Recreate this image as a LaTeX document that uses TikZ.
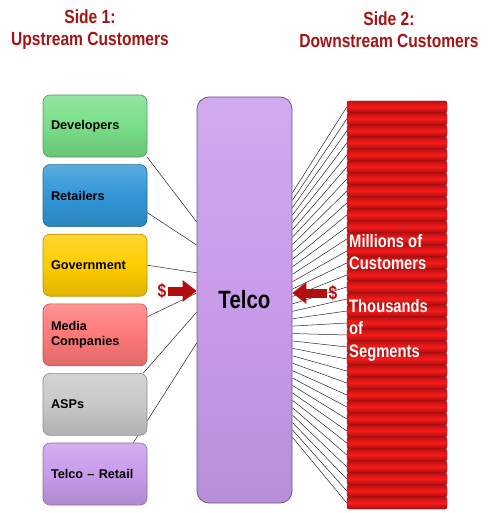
\documentclass[tikz,border=0pt]{standalone}
\usepackage{fontspec}
\setmainfont{Liberation Sans}
\newfontfamily\narrowsans[FakeStretch=0.82]{Liberation Sans}
\usetikzlibrary{positioning,calc,backgrounds,arrows.meta}

\definecolor{titlered}{RGB}{165,20,20}
\definecolor{cashred}{RGB}{180,15,15}
\definecolor{devgreen}{RGB}{120,222,135}
\definecolor{retblue}{RGB}{50,150,215}
\definecolor{govyellow}{RGB}{255,204,0}
\definecolor{medpink}{RGB}{255,120,120}
\definecolor{aspgrey}{RGB}{200,200,200}
\definecolor{telcopurple}{RGB}{200,155,235}
\definecolor{stripered}{RGB}{250,25,25}

\tikzset{
  custbox/.style={rectangle, rounded corners=7pt, minimum width=104pt, minimum height=62pt,
    text width=88pt, inner xsep=8pt, align=left, font=\bfseries\fontsize{12.7}{15}\selectfont,
    draw=#1!70!black, line width=0.6pt, top color=#1!80!white, bottom color=#1!88!black, middle color=#1},
  hubbox/.style={rectangle, rounded corners=12pt, minimum width=95pt, minimum height=406pt,
    draw=telcopurple!55!black, line width=0.8pt, top color=telcopurple!85!white,
    bottom color=telcopurple!92!black, middle color=telcopurple,
    font=\narrowsans\bfseries\fontsize{25}{30}\selectfont},
  stripe/.style={rectangle, rounded corners=2pt, minimum width=100pt, minimum height=12pt, inner sep=0pt,
    draw=stripered!60!black, line width=0.4pt, top color=stripered!75!black,
    bottom color=stripered!65!black, middle color=stripered},
  sidetitle/.style={align=center, text=titlered, font=\narrowsans\bfseries\fontsize{19}{22}\selectfont},
  whitetext/.style={anchor=west, inner sep=0pt, align=left, text=white,
    font=\narrowsans\bfseries\fontsize{18}{22.5}\selectfont},
  dollar/.style={inner sep=1pt, text=cashred, font=\narrowsans\bfseries\fontsize{19}{20}\selectfont},
  cash/.style={-{Triangle[length=14pt,width=21pt]}, line width=9pt, draw=cashred},
  fanline/.style={draw=black!85, line width=0.5pt}
}

\begin{document}
\begin{tikzpicture}[x=1pt, y=-1pt, node distance=7pt]
    \useasboundingbox (0,0) rectangle (500,513);

    % Titles
    \node [sidetitle] (side1) at (90,30) {Side 1:\\Upstream Customers};
    \node [sidetitle] (side2) at (389,30) {Side 2:\\Downstream Customers};

    % Upstream customers
    \node [custbox=devgreen] (dev) at (95,126) {Developers};
    \node [custbox=retblue, below=of dev] (ret) {Retailers};
    \node [custbox=govyellow, below=of ret] (gov) {Government};
    \node [custbox=medpink, below=of gov] (med) {Media\\Companies};
    \node [custbox=aspgrey, below=of med] (asp) {ASPs};
    \node [custbox=telcopurple, below=of asp] (tret) {Telco – Retail};

    % Platform
    \node [hubbox] (telco) at (244.5,300) {Telco};

    % Downstream customers
    \foreach \i in {1,...,34}
        \node [stripe] (s\i) at (397,{95+12*\i}) {};
    \node [whitetext] (mil) at (349,252) {Millions of\\Customers};
    \node [whitetext] (thou) at (349,330) {Thousands\\of\\Segments};

    % Draw edges
    \begin{scope}[on background layer]
        \draw [fanline] (dev.south east) -- ($(telco.north west)!0.308!(telco.south west)$);
        \draw [fanline] (ret.-18) -- ($(telco.north west)!0.365!(telco.south west)$);
        \draw [fanline] (gov.east) -- ($(telco.north west)!0.433!(telco.south west)$);
        \draw [fanline] (med.19) -- ($(telco.north west)!0.483!(telco.south west)$);
        \draw [fanline] ([xshift=-4pt]asp.north east) -- ($(telco.north west)!0.530!(telco.south west)$);
        \draw [fanline] ([xshift=-14pt]tret.north east) -- ($(telco.north west)!0.606!(telco.south west)$);
        \foreach \i [evaluate=\i as \t using (96+7.394*(\i-1))/406] in {1,...,34}
            \draw [fanline] ($(telco.north east)!\t!(telco.south east)$) -- (s\i.west);
    \end{scope}

    % Money flows
    \node [dollar] (usdL) at (162,291) {\$};
    \draw [cash] (usdL.east) -- (usdL.east -| telco.west);
    \node [dollar] (usdR) at (333,293) {\$};
    \draw [cash] (usdR.west) -- (usdR.west -| telco.east);
\end{tikzpicture}
\end{document}
